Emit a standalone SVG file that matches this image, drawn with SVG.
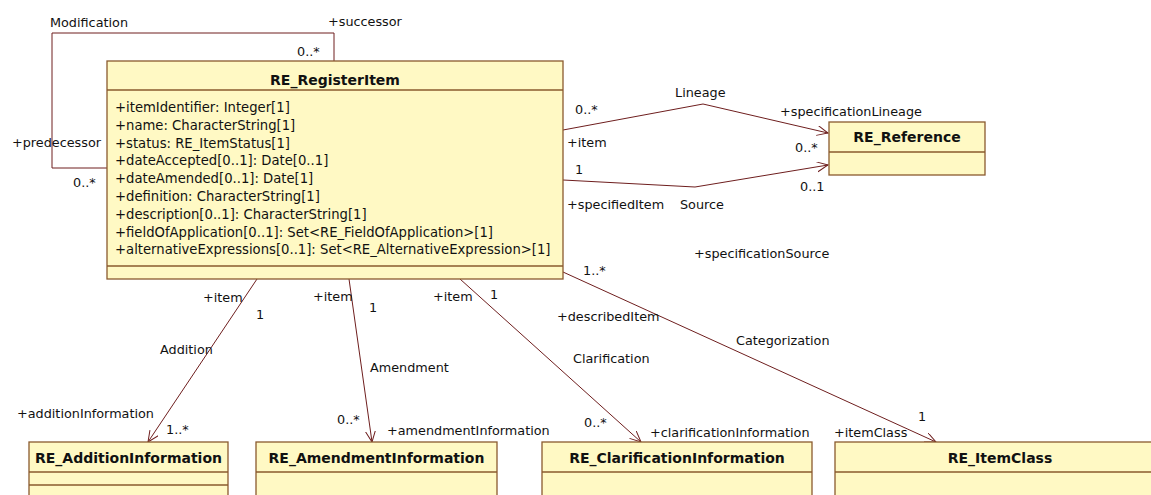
<svg xmlns="http://www.w3.org/2000/svg" width="1151" height="495" viewBox="0 0 1151 495">
<style>
.box{fill:#FFF9C4;stroke:#8A5A2E;stroke-width:1.3}
.sep{stroke:#8A5A2E;stroke-width:1.3}
.title{font-family:"DejaVu Sans",Verdana,sans-serif;font-weight:bold;font-size:14px;fill:#111;text-anchor:middle}
.attr{font-family:"DejaVu Sans",Verdana,sans-serif;font-size:13.2px;fill:#111}
.lbl{font-family:"DejaVu Sans",Verdana,sans-serif;font-size:12.8px;fill:#111}
.con{fill:none;stroke:#6E1E1E;stroke-width:1}
</style>
<defs>
<marker id="open" markerUnits="userSpaceOnUse" markerWidth="14" markerHeight="12" refX="11" refY="5" orient="auto">
<path d="M0,0 L11,5 L0,10" fill="none" stroke="#6E1E1E" stroke-width="1"/>
</marker>
</defs>
<rect width="1151" height="495" fill="#fff"/>

<g id="connectors">
<path class="con" d="M334,61 V33 H52 V168 H107"/>
<path class="con" d="M563,130 L703,104 L828,133" marker-end="url(#open)"/>
<path class="con" d="M563,180 L695,187 L828,165" marker-end="url(#open)"/>
<path class="con" d="M257,279 L148,442" marker-end="url(#open)"/>
<path class="con" d="M349,279 L372,442" marker-end="url(#open)"/>
<path class="con" d="M460,279 L641,442" marker-end="url(#open)"/>
<path class="con" d="M563,272 L936,442" marker-end="url(#open)"/>
</g>

<g id="labels">
<text class="lbl" x="50" y="27">Modification</text>
<text class="lbl" x="328" y="26">+successor</text>
<text class="lbl" x="297" y="56">0..*</text>
<text class="lbl" x="12" y="147">+predecessor</text>
<text class="lbl" x="73" y="187">0..*</text>
<text class="lbl" x="675" y="97">Lineage</text>
<text class="lbl" x="575" y="114">0..*</text>
<text class="lbl" x="567" y="147">+item</text>
<text class="lbl" x="575" y="174">1</text>
<text class="lbl" x="567" y="209">+specifiedItem</text>
<text class="lbl" x="680" y="209">Source</text>
<text class="lbl" x="780" y="116">+specificationLineage</text>
<text class="lbl" x="795" y="152">0..*</text>
<text class="lbl" x="800" y="191">0..1</text>
<text class="lbl" x="694" y="258">+specificationSource</text>
<text class="lbl" x="583" y="275">1..*</text>
<text class="lbl" x="557" y="321">+describedItem</text>
<text class="lbl" x="736" y="345">Categorization</text>
<text class="lbl" x="573" y="363">Clarification</text>
<text class="lbl" x="203" y="302">+item</text>
<text class="lbl" x="256" y="319">1</text>
<text class="lbl" x="160" y="354">Addition</text>
<text class="lbl" x="313" y="301">+item</text>
<text class="lbl" x="369" y="312">1</text>
<text class="lbl" x="370" y="372">Amendment</text>
<text class="lbl" x="433" y="301">+item</text>
<text class="lbl" x="490" y="299">1</text>
<text class="lbl" x="17" y="418">+additionInformation</text>
<text class="lbl" x="166" y="434">1..*</text>
<text class="lbl" x="337" y="424">0..*</text>
<text class="lbl" x="387" y="435">+amendmentInformation</text>
<text class="lbl" x="584" y="427">0..*</text>
<text class="lbl" x="650" y="437">+clarificationInformation</text>
<text class="lbl" x="834" y="437">+itemClass</text>
<text class="lbl" x="918" y="421">1</text>
</g>

<g id="RE_RegisterItem">
<rect class="box" x="107" y="61" width="456" height="218"/>
<line class="sep" x1="107" y1="90" x2="563" y2="90"/>
<line class="sep" x1="107" y1="266" x2="563" y2="266"/>
<text class="title" x="335" y="85">RE_RegisterItem</text>
<text class="attr" x="115" y="112">+itemIdentifier: Integer[1]</text>
<text class="attr" x="115" y="130">+name: CharacterString[1]</text>
<text class="attr" x="115" y="148">+status: RE_ItemStatus[1]</text>
<text class="attr" x="115" y="165">+dateAccepted[0..1]: Date[0..1]</text>
<text class="attr" x="115" y="183">+dateAmended[0..1]: Date[1]</text>
<text class="attr" x="115" y="201">+definition: CharacterString[1]</text>
<text class="attr" x="115" y="219">+description[0..1]: CharacterString[1]</text>
<text class="attr" x="115" y="237">+fieldOfApplication[0..1]: Set&lt;RE_FieldOfApplication&gt;[1]</text>
<text class="attr" x="115" y="254">+alternativeExpressions[0..1]: Set&lt;RE_AlternativeExpression&gt;[1]</text>
</g>

<g id="RE_Reference">
<rect class="box" x="829" y="122" width="156" height="53"/>
<line class="sep" x1="829" y1="152" x2="985" y2="152"/>
<text class="title" x="907" y="142">RE_Reference</text>
</g>

<g id="RE_AdditionInformation">
<rect class="box" x="29" y="442" width="199" height="70"/>
<line class="sep" x1="29" y1="472" x2="228" y2="472"/>
<line class="sep" x1="29" y1="485" x2="228" y2="485"/>
<text class="title" x="128.5" y="463">RE_AdditionInformation</text>
</g>

<g id="RE_AmendmentInformation">
<rect class="box" x="256" y="442" width="241" height="70"/>
<line class="sep" x1="256" y1="472" x2="497" y2="472"/>
<text class="title" x="376.5" y="463">RE_AmendmentInformation</text>
</g>

<g id="RE_ClarificationInformation">
<rect class="box" x="542" y="442" width="270" height="70"/>
<line class="sep" x1="542" y1="472" x2="812" y2="472"/>
<text class="title" x="677" y="463">RE_ClarificationInformation</text>
</g>

<g id="RE_ItemClass">
<rect class="box" x="835" y="442" width="330" height="70"/>
<line class="sep" x1="835" y1="472" x2="1165" y2="472"/>
<text class="title" x="1000" y="463">RE_ItemClass</text>
</g>
</svg>
